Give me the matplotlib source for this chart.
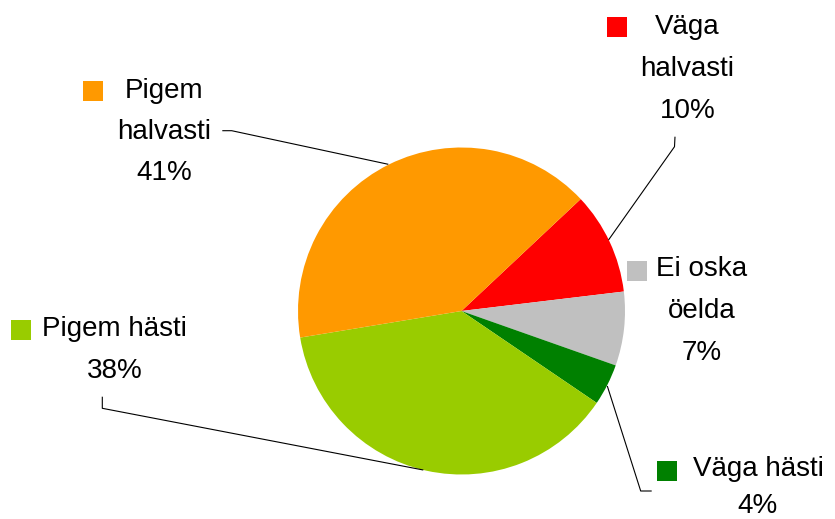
import matplotlib
matplotlib.use("Agg")
import matplotlib.pyplot as plt
from matplotlib.patches import Rectangle

# ---- data ----
categories = ["Väga\nhalvasti", "Ei oska\nöelda", "Väga hästi", "Pigem hästi", "Pigem\nhalvasti"]
values = [10.1, 7.3, 4.1, 37.9, 40.6]
colors = ["#FF0000", "#C0C0C0", "#008000", "#99CC00", "#FF9900"]

# ---- layout (pixel coordinates from top-left) ----
W, H = 835, 519
center_px = (461.5, 311.0)
radius_px = 163.5
start_angle = 43.2
font_size = 20
# per label: (center x, first baseline y, line step)
label_pos = [(687.5, 34.5, 41.5), (701.5, 276.5, 41.5), (758.0, 476.5, 36.5),
             (114.5, 336.5, 41.5), (164.0, 97.5, 41.5)]
key_pos = [(606.7, 16.7), (626.7, 260.7), (656.7, 461.0), (11.0, 320.0), (82.7, 80.7)]
key_size = 20
leaders = [
    [(675.0, 136.7), (674.5, 146.7), (608.5, 240.0)],
    None,
    [(651.7, 491.0), (640.7, 491.0), (607.3, 386.0)],
    [(102.3, 396.7), (102.3, 408.3), (423.3, 470.0)],
    [(222.3, 130.7), (231.7, 130.7), (388.3, 164.3)],
]

plt.rcParams['font.family'] = ['Liberation Sans', 'DejaVu Sans']

fig = plt.figure(figsize=(W / 100, H / 100), dpi=100)
ax = fig.add_axes([0, 0, 1, 1])

def fy(y):
    return H - y

ax.pie(values, colors=colors, startangle=start_angle, counterclock=False,
       center=(center_px[0], fy(center_px[1])), radius=radius_px,
       wedgeprops=dict(linewidth=0, edgecolor='none', antialiased=True))

ax.set_xlim(0, W)
ax.set_ylim(0, H)
ax.set_aspect('auto')
ax.axis('off')

for cat, val, col, (cx, by, step), (kx, ky), ld in zip(categories, values, colors,
                                                        label_pos, key_pos, leaders):
    lines = cat.split("\n") + [f"{round(val)}%"]
    for i, ln in enumerate(lines):
        ax.text(cx, fy(by + i * step), ln, ha='center', va='baseline',
                fontsize=font_size, color='black')
    ax.add_patch(Rectangle((kx, fy(ky + key_size)), key_size, key_size,
                           facecolor=col, edgecolor='none'))
    if ld is not None:
        xs = [p[0] for p in ld]
        ys = [fy(p[1]) for p in ld]
        ax.plot(xs, ys, color='black', linewidth=0.8, solid_capstyle='butt')

fig.savefig("out.png", dpi=100)
